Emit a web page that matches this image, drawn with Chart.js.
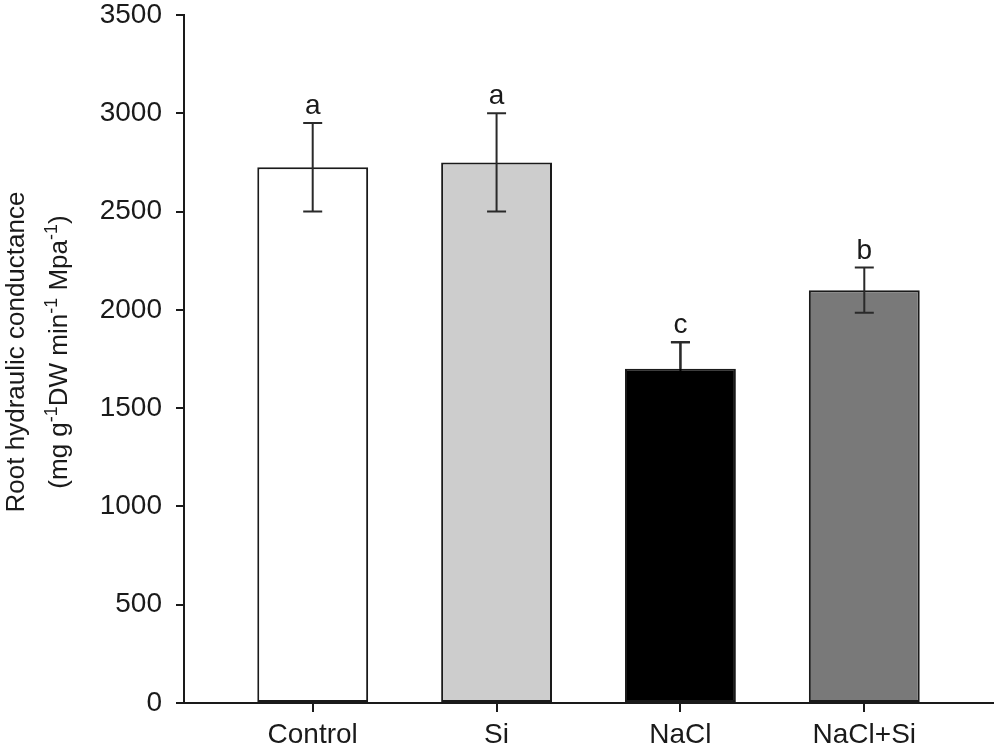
<!DOCTYPE html>
<html>
<head>
<meta charset="utf-8">
<script src="https://cdn.jsdelivr.net/npm/chart.js@4"></script>
<style>
  body { margin: 0; background: #fff; }
  #wrap { width: 1000px; height: 750px; position: relative; }
</style>
</head>
<body>
<div id="wrap"><canvas id="chart"></canvas></div>
<script>
// values
let categories = ['Control', 'Si', 'NaCl', 'NaCl+Si'];
let means = [2725, 2750, 1700, 2100];
let errors = [225, 250, 135, 115];
let letters = ['a', 'a', 'c', 'b'];
let yTicks = [0, 500, 1000, 1500, 2000, 2500, 3000, 3500];

var FONT = "'Liberation Sans', Arial, Helvetica, sans-serif";
var INK = '#1a1a1a';
var fills = ['#ffffff', '#cdcdcd', '#000000', '#797979'];

// y title with superscripts, drawn by hand
var titleLine1 = [{ t: 'Root hydraulic conductance' }];
var titleLine2 = [
  { t: '(mg g' }, { t: '-1', sup: true }, { t: 'DW min' }, { t: '-1', sup: true },
  { t: ' Mpa' }, { t: '-1', sup: true }, { t: ')' }
];

function drawRich(ctx, parts, cx, baseline) {
  var w = 0;
  parts.forEach(p => {
    ctx.font = (p.sup ? '18px ' : '26px ') + FONT;
    p.w = ctx.measureText(p.t).width;
    w += p.w;
  });
  var x = cx - w / 2;
  parts.forEach(p => {
    ctx.font = (p.sup ? '18px ' : '26px ') + FONT;
    ctx.fillText(p.t, x, p.sup ? baseline - 10 : baseline);
    x += p.w;
  });
}

const yTitlePlugin = {
  id: 'yTitle',
  afterDraw(chart) {
    const ctx = chart.ctx;
    ctx.save();
    ctx.fillStyle = INK;
    ctx.textAlign = 'left';
    ctx.textBaseline = 'alphabetic';
    ctx.translate(0, 352);
    ctx.rotate(-Math.PI / 2);
    drawRich(ctx, titleLine1, 0, 24);
    drawRich(ctx, titleLine2, 0, 67);
    ctx.restore();
  }
};

const errorBarPlugin = {
  id: 'errorBars',
  afterDatasetsDraw(chart) {
    const ctx = chart.ctx;
    const yScale = chart.scales.y;
    const meta = chart.getDatasetMeta(0);
    ctx.save();
    ctx.lineWidth = 2;
    ctx.font = '28px ' + FONT;
    ctx.textAlign = 'center';
    ctx.textBaseline = 'alphabetic';
    meta.data.forEach((bar, i) => {
      var top = yScale.getPixelForValue(means[i] + errors[i]);
      var bot = yScale.getPixelForValue(means[i] - errors[i]);
      var x = bar.x;
      // whisker is dark grey, vanishes on the black bar
      ctx.strokeStyle = fills[i] == '#000000' ? '#000000' : '#2a2a2a';
      ctx.beginPath();
      ctx.moveTo(x, top); ctx.lineTo(x, bot);
      ctx.moveTo(x - 9.5, top); ctx.lineTo(x + 9.5, top);
      ctx.moveTo(x - 9.5, bot); ctx.lineTo(x + 9.5, bot);
      ctx.stroke();
      if (fills[i] == '#000000') {
        ctx.strokeStyle = '#2a2a2a';
        ctx.beginPath();
        ctx.moveTo(x, top); ctx.lineTo(x, bar.y);
        ctx.moveTo(x - 9.5, top); ctx.lineTo(x + 9.5, top);
        ctx.stroke();
      }
      ctx.fillStyle = INK;
      ctx.fillText(letters[i], x, top - 9);
    });
    ctx.restore();
  }
};

myChart = new Chart(document.getElementById('chart'), {
  type: 'bar',
  data: {
    datasets: [{
      data: means.map((v, i) => ({ x: i, y: v })),
      backgroundColor: fills,
      borderColor: INK,
      borderWidth: 2,
      borderSkipped: false,
      categoryPercentage: 1,
      barPercentage: 0.603
    }]
  },
  options: {
    responsive: true,
    maintainAspectRatio: false,
    animation: false,
    layout: { padding: { left: 0, right: 7, top: 0, bottom: 0 } },
    plugins: {
      legend: { display: false },
      tooltip: { enabled: false }
    },
    scales: {
      x: {
        type: 'linear',
        offset: false,
        min: -0.70,
        max: 3.70,
        afterBuildTicks: (scale) => {
          scale.ticks = categories.map((c, i) => ({ value: i }));
        },
        afterFit: (scale) => { scale.height = 47; },
        ticks: {
          callback: (v) => categories[v],
          color: INK,
          font: { family: FONT, size: 28 },
          padding: 6,
          maxRotation: 0,
          autoSkip: false
        },
        grid: { offset: false, drawOnChartArea: false, tickLength: 9, color: INK, lineWidth: 2 },
        border: { display: true, color: INK, width: 2 }
      },
      y: {
        min: 0,
        max: 3500,
        afterBuildTicks: (scale) => {
          scale.ticks = yTicks.map(v => ({ value: v }));
        },
        afterFit: (scale) => {
          scale.width = 184;
          scale.paddingTop = 15;
          scale.paddingBottom = 0;
        },
        ticks: {
          callback: (v) => String(v),
          color: INK,
          font: { family: FONT, size: 28 },
          padding: 14
        },
        grid: { drawOnChartArea: false, tickLength: 8, color: INK, lineWidth: 2 },
        border: { display: true, color: INK, width: 2 }
      }
    }
  },
  plugins: [errorBarPlugin, yTitlePlugin]
});
</script>
</body>
</html>
